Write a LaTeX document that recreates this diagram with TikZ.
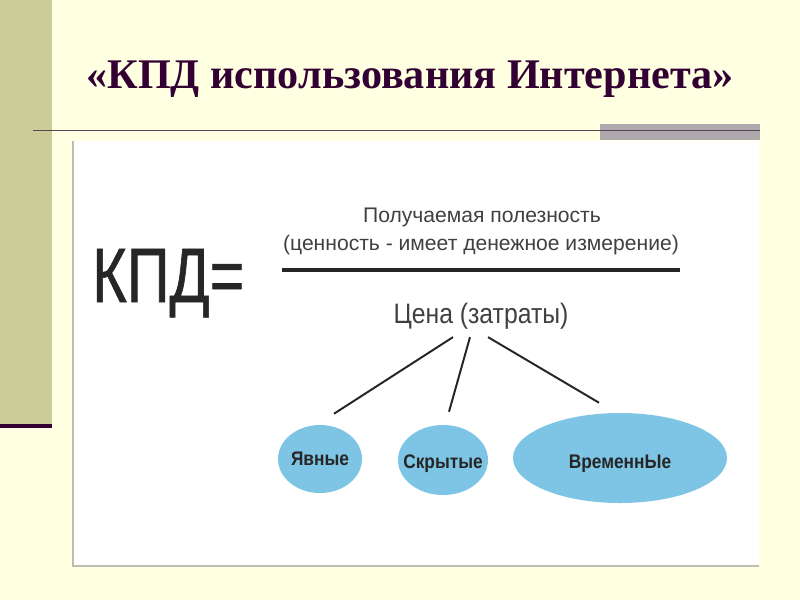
\documentclass[tikz,border=0pt]{standalone}
\usepackage{fontspec}
\setmainfont{Liberation Serif}
\newfontfamily\plainsans{Liberation Sans}
\newfontfamily\narrowsans[FakeStretch=0.77,FakeBold=0.8]{Liberation Sans}
\newfontfamily\semisans[FakeStretch=0.88]{Liberation Sans}
\usetikzlibrary{shapes.geometric,calc}
\definecolor{slideBg}{HTML}{FFFFE1}
\definecolor{barOlive}{HTML}{CCCC99}
\definecolor{titlePurple}{HTML}{330033}
\definecolor{rulePurple}{HTML}{5A4655}
\definecolor{ruleGray}{HTML}{ADA9AD}
\definecolor{panelEdge}{HTML}{BDBDB2}
\definecolor{ovalBlue}{HTML}{7EC5E5}
\newcommand{\ovaltext}[2]{\makebox[0pt]{\smash{\raisebox{#1}{#2}}}}
\tikzset{
  oval/.style={ellipse, fill=ovalBlue, inner sep=0pt,
    font=\semisans\bfseries\fontsize{14}{16}\selectfont, text=black!85},
  conn/.style={line width=1.4pt, black!85},
}

\begin{document}
\begin{tikzpicture}[x=0.025cm,y=-0.025cm]
\useasboundingbox (0,0) rectangle (800,600);
% slide background
\fill[slideBg] (0,0) rectangle (800,600);
\fill[barOlive] (0,0) rectangle (52,424);
\fill[titlePurple] (0,424) rectangle (52,427.5);
\fill[ruleGray] (600,124) rectangle (760,139.5);
\draw[rulePurple, line width=1.4pt] (33,130.5) -- (760,130.5);
\fill[white] (73,141) rectangle (759,566);
\draw[panelEdge, line width=1.2pt] (73,141) -- (73,566) -- (759,566);
% title
\node[anchor=base, text=titlePurple, font=\bfseries\fontsize{30}{34}\selectfont]
  (title) at (410,88) {«КПД использования Интернета»};
% formula
\node[anchor=base west, inner sep=0pt, text=black!85,
  font=\narrowsans\fontsize{54.8}{60}\selectfont] (kpd) at (92,302) {КПД=};
\node[anchor=base, text=black!75, font=\plainsans\fontsize{15}{18}\selectfont]
  (gainA) at (482,222) {Получаемая полезность};
\node[anchor=base, text=black!75, font=\plainsans\fontsize{15}{18}\selectfont]
  (gainB) at (481,250) {(ценность - имеет денежное измерение)};
\draw[black!85, line width=2.8pt] (282,270) -- (680,270);
\node[anchor=base, inner sep=0pt, text=black!75, font=\semisans\fontsize{20}{24}\selectfont]
  (price) at (481,323) {Цена (затраты)};
% kinds of cost
\node[oval, minimum width=2.1cm, minimum height=1.7cm] (yavn) at (320,459)
  {\ovaltext{-4.5pt}{Явные}};
\node[oval, minimum width=2.25cm, minimum height=1.75cm] (skryt) at (443,460)
  {\ovaltext{-6.3pt}{Скрытые}};
\node[oval, minimum width=5.35cm, minimum height=2.25cm] (vrem) at (620,458)
  {\ovaltext{-7.5pt}{ВременнЫе}};
\draw[conn] ($(price.south)+(-28,8)$) -- ($(yavn.north)+(14,-11)$);
\draw[conn] ($(price.south)+(-11,8)$) -- ($(skryt.north)+(6,-13)$);
\draw[conn] ($(price.south)+(7,8)$) -- ($(vrem.north)+(-21,-10)$);
\end{tikzpicture}
\end{document}
